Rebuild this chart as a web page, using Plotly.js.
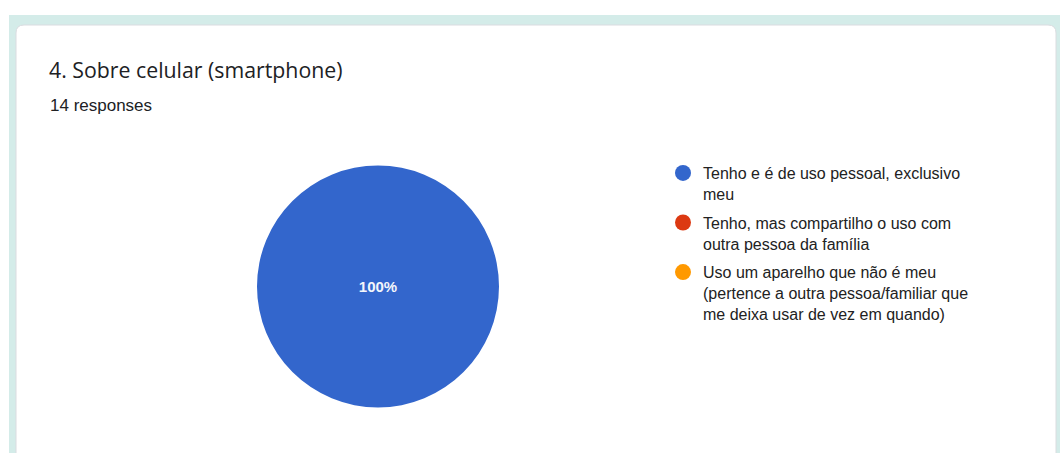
<!DOCTYPE html>
<html>
<head>
<meta charset="utf-8">
<script src="https://cdn.plot.ly/plotly-3.0.1.min.js"></script>
<style>
html,body{margin:0;padding:0;background:#fff;}
#chart{width:1060px;height:453px;}
</style>
</head>
<body>
<div id="chart"></div>
<script>
// ---- data ----
const titleText = "4. Sobre celular (smartphone)";
const responsesText = "14 responses";
const categories = [
  "Tenho e é de uso pessoal, exclusivo<br>meu",
  "Tenho, mas compartilho o uso com<br>outra pessoa da família",
  "Uso um aparelho que não é meu<br>(pertence a outra pessoa/familiar que<br>me deixa usar de vez em quando)"
];
const values = [14, 0, 0];
const colors = ["#3366cc", "#dc3912", "#ff9900"];

// ---- layout helpers ----
const W = 1060, H = 453;
const px = v => v / W;
const py = v => 1 - v / H;

const pie = {
  type: "pie",
  values: values,
  labels: categories,
  marker: {colors: colors, line: {width: 0}},
  sort: false,
  direction: "clockwise",
  rotation: 0,
  textposition: "inside",
  texttemplate: values.map(v => v > 0 ? "<b>%{percent:.0%}</b>" : ""),
  insidetextfont: {family: "Arial, 'Liberation Sans', sans-serif", size: 15, color: "#f4f6fb"},
  hoverinfo: "skip",
  showlegend: false,
  domain: {x: [px(257), px(499)], y: [py(408), py(165)]}
};

const legendTraces = categories.map((c, i) => ({
  type: "scatter",
  mode: "markers",
  x: [null], y: [null],
  name: c,
  legendgroup: "g" + i,
  marker: {color: colors[i], size: 16, symbol: "circle"},
  hoverinfo: "skip",
  showlegend: true
}));

const r = 8;
const cardPath = `M ${px(16)} ${py(460)} L ${px(16)} ${py(25 + r)} Q ${px(16)} ${py(25)} ${px(16 + r)} ${py(25)} L ${px(1056 - r)} ${py(25)} Q ${px(1056)} ${py(25)} ${px(1056)} ${py(25 + r)} L ${px(1056)} ${py(460)} Z`;

const layout = {
  width: W, height: H,
  margin: {l: 0, r: 0, t: 0, b: 0, pad: 0},
  paper_bgcolor: "#ffffff",
  plot_bgcolor: "rgba(0,0,0,0)",
  xaxis: {visible: false, range: [0, 1]},
  yaxis: {visible: false, range: [0, 1]},
  title: {
    text: titleText,
    x: px(49), xref: "paper", xanchor: "left",
    y: py(71), yref: "paper", yanchor: "middle",
    font: {family: "'Open Sans', sans-serif", size: 21.3, color: "#202124"}
  },
  annotations: [{
    text: responsesText,
    xref: "paper", yref: "paper",
    x: px(48), y: py(106), xanchor: "left", yanchor: "middle",
    showarrow: false,
    font: {family: "Arial, 'Liberation Sans', sans-serif", size: 17, color: "#202124"}
  }],
  shapes: [
    {type: "rect", xref: "paper", yref: "paper", x0: px(9), x1: 1, y0: py(460), y1: py(15),
     fillcolor: "#d4ece9", line: {width: 0}, layer: "below"},
    {type: "path", xref: "paper", yref: "paper", path: cardPath,
     fillcolor: "#ffffff", line: {color: "#dadce0", width: 1}, layer: "below"}
  ],
  legend: {
    x: px(663), xanchor: "left",
    y: py(156), yanchor: "top",
    valign: "top",
    tracegroupgap: 5,
    bgcolor: "rgba(0,0,0,0)",
    borderwidth: 0,
    font: {family: "Arial, 'Liberation Sans', sans-serif", size: 16, color: "#222222"},
    itemclick: false, itemdoubleclick: false
  },
  hovermode: false
};

Plotly.newPlot("chart", [pie, ...legendTraces], layout, {displayModeBar: false, staticPlot: true});
</script>
</body>
</html>
